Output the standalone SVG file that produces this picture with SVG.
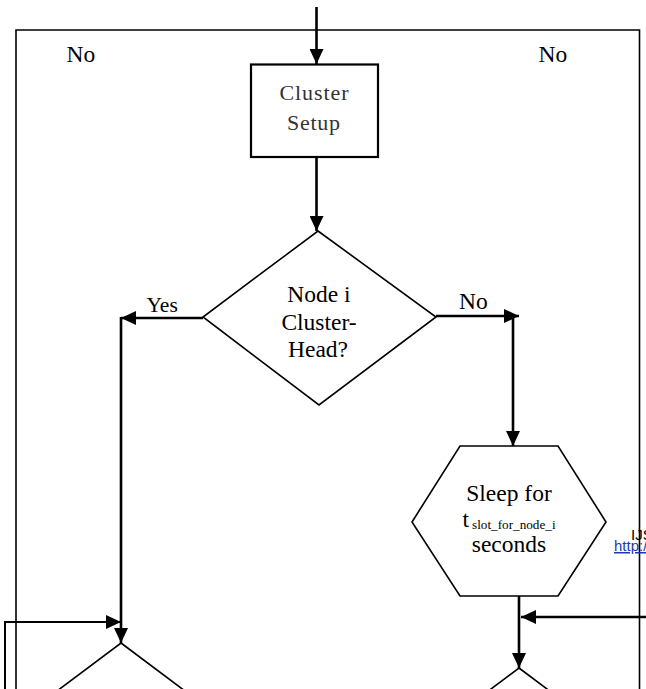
<svg xmlns="http://www.w3.org/2000/svg" width="646" height="689" viewBox="0 0 646 689">
<defs>
<marker id="ah" markerUnits="userSpaceOnUse" markerWidth="16" markerHeight="14" refX="15" refY="7" orient="auto">
<path d="M0,0 L15,7 L0,14 z" fill="#000"/>
</marker>
<style>
.shape{fill:#fff;stroke:#000;stroke-width:1.6}
.box{fill:#fff;stroke:#000;stroke-width:2.2}
.conn{fill:none;stroke:#000;stroke-width:2.6}
.frame{fill:none;stroke:#000;stroke-width:1.6}
.t{font-family:"Liberation Serif","Times New Roman",serif;font-size:23.5px;fill:#000;text-anchor:middle}
.tg{font-family:"Liberation Serif","Times New Roman",serif;font-size:22px;fill:#333;text-anchor:middle}
.lbl{font-family:"Liberation Serif","Times New Roman",serif;font-size:23.5px;fill:#000}
.sans{font-family:"Liberation Sans",Arial,sans-serif;font-size:15px;fill:#000}
.link{font-family:"Liberation Sans",Arial,sans-serif;font-size:15px;fill:#1a3ab5;text-decoration:underline}
</style>
</defs>
<rect width="646" height="689" fill="#fff"/>
<g id="loop-frame">
<path class="frame" d="M16,700 V30 H639.5 V700"/>
</g>
<g id="watermark">
<text class="sans" x="631" y="540">IJS</text>
<text class="link" x="614" y="551">http:/</text>
</g>
<g id="cluster-setup">
<rect class="box" x="251" y="64.5" width="127" height="92.5"/>
<text class="tg" x="314" y="100" textLength="69" lengthAdjust="spacing">Cluster</text>
<text class="tg" x="313.5" y="130" textLength="53" lengthAdjust="spacing">Setup</text>
</g>
<g id="is-cluster-head">
<polygon class="shape" points="318,231 436,317 319,405 203,317"/>
<text class="t" x="319" y="301.5">Node i</text>
<text class="t" x="319" y="330">Cluster-</text>
<text class="t" x="318" y="356.5">Head?</text>
</g>
<g id="sleep">
<polygon class="shape" points="460,446 558,446 606,522 558,596 460,596 412,522"/>
<text class="t" x="509" y="500.5">Sleep for</text>
<text class="lbl" x="462.5" y="526.5">t<tspan font-size="13.2px" dx="3" dy="2">slot_for_node_i</tspan></text>
<text class="t" x="509" y="551.5">seconds</text>
</g>
<g id="decision-left">
<polygon class="shape" points="121,643 237,730 121,817 5,730"/>
</g>
<g id="decision-right">
<polygon class="shape" points="519,668 635,755 519,842 403,755"/>
</g>
<g id="connectors">
<path class="conn" d="M316.5,7 V64" marker-end="url(#ah)"/>
<path class="conn" d="M316.5,157 V231" marker-end="url(#ah)"/>
<path class="conn" d="M203,318 H121" marker-end="url(#ah)"/>
<path class="conn" d="M121,317 V643" marker-end="url(#ah)"/>
<path class="conn" d="M436,316 H519" marker-end="url(#ah)"/>
<path class="conn" d="M513,316 V446" marker-end="url(#ah)"/>
<path class="conn" d="M519,596 V668" marker-end="url(#ah)"/>
<path class="conn" d="M646,617 H521" marker-end="url(#ah)"/>
<path class="frame" d="M5,700 V622 H121" marker-end="url(#ah)" style="stroke-width:2"/>
<text class="lbl" x="66.5" y="61.5">No</text>
<text class="lbl" x="538.5" y="61.5">No</text>
<text class="lbl" x="146.5" y="311.5" style="font-size:21.5px">Yes</text>
<text class="lbl" x="459" y="308.5">No</text>
</g>
</svg>
